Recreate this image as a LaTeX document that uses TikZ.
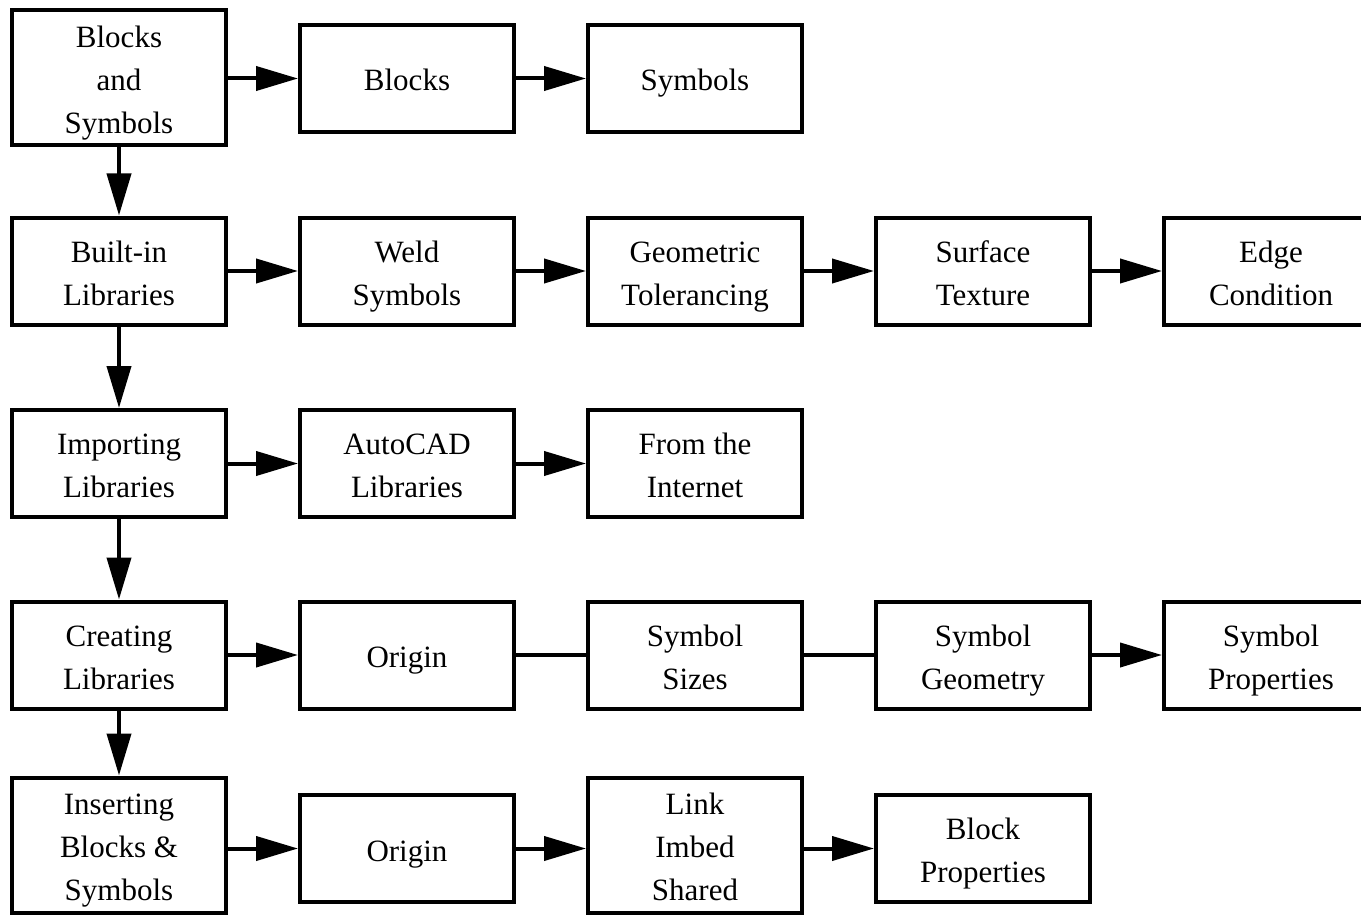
\documentclass[tikz,border=0pt]{standalone}
\usepackage{fontspec}
\setmainfont{Liberation Serif}
\usetikzlibrary{arrows.meta}
\newcommand\mystrut{\rule[-9pt]{0pt}{43pt}}
\tikzset{
  box/.style={draw, line width=4pt, rectangle, minimum width=214pt, minimum height=107pt,
    inner sep=0pt, align=center, font=\fontsize{31}{43}\selectfont},
  tallbox/.style={box, minimum height=135pt},
  conn/.style={line width=4pt},
  arr/.style={conn, -{Triangle[length=42pt,width=24pt]}}
}
\begin{document}
\begin{tikzpicture}[x=1pt,y=-1pt]
\useasboundingbox (0,0) rectangle (1361,915);
\clip (0,0) rectangle (1361,915);
\fill[white] (0,0) rectangle (1361,915);
% row 1
\node[tallbox] (bs) at (119,78) {\mystrut Blocks\\\mystrut and\\\mystrut Symbols};
\node[box] (blocks) at (407,78.5) {\mystrut Blocks};
\node[box] (symbols) at (695,78.5) {\mystrut Symbols};
% row 2
\node[box] (builtin) at (119,271) {\mystrut Built-in\\\mystrut Libraries};
\node[box] (weld) at (407,271) {\mystrut Weld\\\mystrut Symbols};
\node[box] (geom) at (695,271) {\mystrut Geometric\\\mystrut Tolerancing};
\node[box] (surf) at (983,271) {\mystrut Surface\\\mystrut Texture};
\node[box] (edge) at (1271,271) {\mystrut Edge\\\mystrut Condition};
% row 3
\node[box] (import) at (119,463.5) {\mystrut Importing\\\mystrut Libraries};
\node[box] (autocad) at (407,463.5) {\mystrut AutoCAD\\\mystrut Libraries};
\node[box] (internet) at (695,463.5) {\mystrut From the\\\mystrut Internet};
% row 4
\node[box] (create) at (119,655) {\mystrut Creating\\\mystrut Libraries};
\node[box] (origin1) at (407,655) {\mystrut Origin};
\node[box] (sizes) at (695,655) {\mystrut Symbol\\\mystrut Sizes};
\node[box] (sgeom) at (983,655) {\mystrut Symbol\\\mystrut Geometry};
\node[box] (sprop) at (1271,655) {\mystrut Symbol\\\mystrut Properties};
% row 5
\node[tallbox] (insert) at (119,845) {\mystrut Inserting\\\mystrut Blocks \&\\\mystrut Symbols};
\node[box] (origin2) at (407,848.5) {\mystrut Origin};
\node[tallbox] (link) at (695,845) {\mystrut Link\\\mystrut Imbed\\\mystrut Shared};
\node[box] (bprop) at (983,848.5) {\mystrut Block\\\mystrut Properties};
% vertical arrows
\draw[arr] (bs) -- (builtin);
\draw[arr] (builtin) -- (import);
\draw[arr] (import) -- (create);
\draw[arr] (create) -- (insert);
% horizontal arrows
\draw[arr] (bs.east |- blocks) -- (blocks);
\draw[arr] (blocks) -- (symbols);
\draw[arr] (builtin) -- (weld);
\draw[arr] (weld) -- (geom);
\draw[arr] (geom) -- (surf);
\draw[arr] (surf) -- (edge);
\draw[arr] (import) -- (autocad);
\draw[arr] (autocad) -- (internet);
\draw[arr] (create) -- (origin1);
\draw[conn] (origin1) -- (sizes);
\draw[conn] (sizes) -- (sgeom);
\draw[arr] (sgeom) -- (sprop);
\draw[arr] (insert.east |- origin2) -- (origin2);
\draw[arr] (origin2) -- (link.west |- origin2);
\draw[arr] (link.east |- bprop) -- (bprop);
\end{tikzpicture}
\end{document}
